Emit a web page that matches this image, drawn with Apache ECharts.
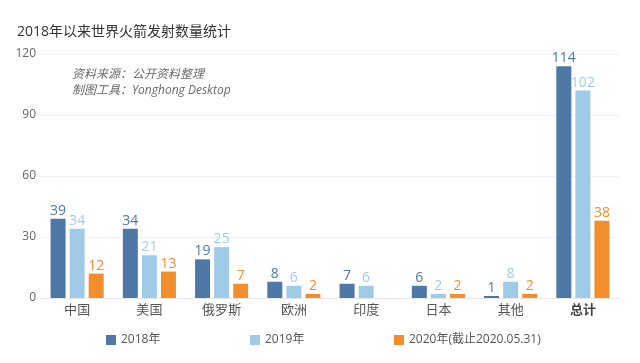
<!DOCTYPE html>
<html><head><meta charset="utf-8">
<script src="https://cdn.jsdelivr.net/npm/echarts@6/dist/echarts.min.js"></script>
<style>html,body{margin:0;padding:0;background:#fff}#c{width:640px;height:363px}</style>
</head><body><div id="c"></div>
<script>
const categories = ['中国','美国','俄罗斯','欧洲','印度','日本','其他','总计'];
const seriesNames = ['2018年','2019年','2020年(截止2020.05.31)'];
const v2018 = [39,34,19,8,7,6,1,114];
const v2019 = [34,21,25,6,6,2,8,102];
const v2020 = [12,13,7,2,null,2,2,38];
const yTicks = [0,30,60,90,120];
const colors = ['#4e79a7','#a0cbe8','#f28e2b'];
const font = '"Open Sans","Noto Sans CJK SC",sans-serif';
const chart = echarts.init(document.getElementById('c'));
const mk = (name, data, i) => ({
  name, type:'bar', data, barWidth:15, barGap:'27%',
  itemStyle:{color:colors[i]},
  label:{show:true, position:'top', distance:1, color:colors[i], fontSize:14, fontFamily:font}
});
const legendPos = [101,245,389];
chart.setOption({
  animation:false,
  textStyle:{fontFamily:font},
  title:{text:'2018年以来世界火箭发射数量统计', left:12, top:20, textStyle:{fontSize:14, fontWeight:'normal', color:'#333', fontFamily:font}},
  graphic:[
    {type:'text', left:72, top:67, style:{text:'资料来源：公开资料整理\n制图工具：Yonghong Desktop', fill:'#6a6a6a', font:'italic 12px '+font, lineHeight:16}}
  ],
  legend: seriesNames.map((n,i)=>({data:[n], left:legendPos[i], top:329, icon:'rect', itemWidth:10, itemHeight:10, itemGap:5,
    textStyle:{fontSize:12, color:'#555', fontFamily:font}})),
  grid:{left:41, right:21, top:54, bottom:65},
  xAxis:{type:'category', data:categories,
    axisLine:{lineStyle:{color:'#e6e6e6'}}, axisTick:{show:false},
    axisLabel:{fontSize:13, color:'#555', margin:6, fontFamily:font,
      formatter:(v)=> v==='总计' ? '{b|'+v+'}' : v,
      rich:{b:{fontWeight:'bold', fontSize:13, color:'#444', fontFamily:font}}}},
  yAxis:{type:'value', min:yTicks[0], max:yTicks[yTicks.length-1], interval:30,
    axisLine:{show:false}, axisTick:{show:false},
    axisLabel:{fontSize:12, color:'#666', margin:5, fontFamily:font},
    splitLine:{lineStyle:{color:'#f0f0f0'}}},
  series:[mk(seriesNames[0],v2018,0), mk(seriesNames[1],v2019,1), mk(seriesNames[2],v2020,2)]
});
</script></body></html>
